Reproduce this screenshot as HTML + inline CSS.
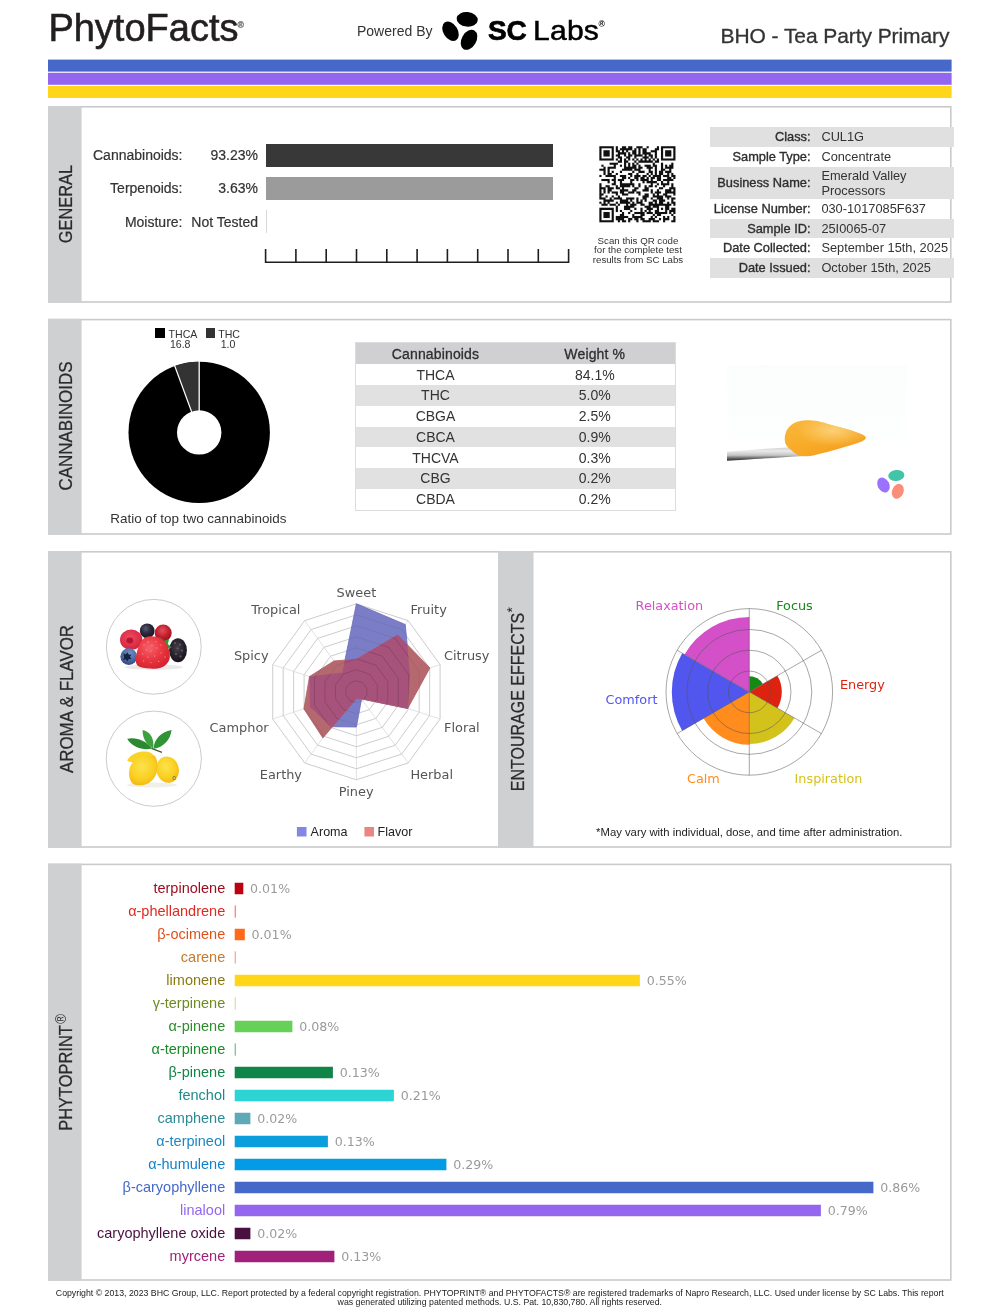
<!DOCTYPE html>
<html lang="en">
<head>
<meta charset="utf-8">
<title>PhytoFacts - BHO - Tea Party Primary</title>
<style>
html,body{margin:0;padding:0;background:#fff;}
body{will-change:transform;width:1000px;height:1309px;position:relative;overflow:hidden;font-family:"Liberation Sans",sans-serif;color:#333;}
.abs{position:absolute;white-space:nowrap;}
.dj{font-family:"DejaVu Sans","Liberation Sans",sans-serif;}
.sec{position:absolute;left:48px;width:903.6px;box-sizing:border-box;border:1.7px solid #cbccce;background:#fff;}
.side{position:absolute;background:#cfd0d2;}
.vl{position:absolute;white-space:nowrap;font-size:18px;line-height:18px;color:#2b2b2b;-webkit-text-stroke:0.25px #2b2b2b;}
.vl sup{position:absolute;left:100%;line-height:10px;vertical-align:baseline;}
.stripe{position:absolute;left:48px;width:903.6px;height:12px;}
/* general */
.glab{position:absolute;font-size:14px;line-height:16px;white-space:nowrap;color:#333;text-align:right;-webkit-text-stroke:0.2px #333;}
.it{position:absolute;left:710.4px;width:244px;}
.it .l{position:absolute;right:143.9px;white-space:nowrap;font-size:12.8px;line-height:14px;color:#2e2e2e;-webkit-text-stroke:0.35px #2e2e2e;}
.it .v{position:absolute;left:111px;white-space:nowrap;font-size:12.8px;line-height:14px;color:#333;}
.g{background:#e0e0e1;}
/* cannabinoid table */
.ct{position:absolute;left:355.5px;width:319.3px;}
.ct div{position:absolute;left:0;width:100%;height:20.77px;}
.ct span{position:absolute;top:2.2px;font-size:14px;line-height:16px;width:160px;text-align:center;color:#333;}
.ct span.a{left:0;}
.ct span.b{left:159.3px;}
/* phytoprint */
.pl{position:absolute;right:774.8px;white-space:nowrap;font-size:14.5px;line-height:16px;}
.pb{position:absolute;left:234.3px;height:11.5px;}
.pv{position:absolute;white-space:nowrap;font-size:12.6px;line-height:16px;color:#9a9a9a;font-family:"DejaVu Sans","Liberation Sans",sans-serif;}
</style>
</head>
<body>

<!-- ================= FRAME ================= -->
<svg class="abs" style="left:0;top:0;" width="1000" height="1309" viewBox="0 0 1000 1309">
  <rect x="48" y="59.6" width="903.6" height="12" fill="#4668c9"/>
  <rect x="48" y="72.8" width="903.6" height="12" fill="#9466f0"/>
  <rect x="48" y="86" width="903.6" height="12" fill="#ffd61a"/>
  <rect x="48.8" y="106.8" width="902" height="195.2" fill="#fff" stroke="#c9cacc" stroke-width="1.6"/>
  <rect x="48" y="106" width="33.6" height="196.8" fill="#cfd0d2"/>
  <rect x="48.8" y="319.6" width="902" height="214.4" fill="#fff" stroke="#c9cacc" stroke-width="1.6"/>
  <rect x="48" y="318.8" width="33.6" height="216.0" fill="#cfd0d2"/>
  <rect x="48.8" y="551.8" width="902" height="295.2" fill="#fff" stroke="#c9cacc" stroke-width="1.6"/>
  <rect x="48" y="551" width="33.6" height="296.8" fill="#cfd0d2"/>
  <rect x="48.8" y="864.4" width="902" height="415.6" fill="#fff" stroke="#c9cacc" stroke-width="1.6"/>
  <rect x="48" y="863.6" width="33.6" height="417.2" fill="#cfd0d2"/>
  <rect x="498" y="551" width="35.5" height="296.8" fill="#cfd0d2"/>
</svg>

<!-- ================= HEADER ================= -->
<div class="abs" id="pf" style="left:48.4px;top:5.7px;font-size:38px;line-height:44px;color:#231f20;-webkit-text-stroke:0.6px #231f20;">PhytoFacts</div>
<div class="abs" id="r1" style="left:237.5px;top:21.3px;font-size:8.6px;line-height:9px;color:#777;font-weight:bold;-webkit-text-stroke:0.5px #888;">®</div>
<div class="abs" id="pw" style="left:357px;top:22px;font-size:14px;line-height:18px;color:#333;">Powered By</div>
<svg class="abs" style="left:436px;top:6px;" width="48" height="48" viewBox="436 6 48 48">
  <ellipse cx="467.2" cy="19.3" rx="10.6" ry="7.3" transform="rotate(6 467.2 19.3)" fill="#000"/>
  <ellipse cx="450.5" cy="31.3" rx="10.6" ry="7.2" transform="rotate(58 450.5 31.3)" fill="#000"/>
  <ellipse cx="469" cy="39.8" rx="10.8" ry="7.3" transform="rotate(-60 469 39.8)" fill="#000"/>
</svg>
<div class="abs" id="sc" style="left:487.9px;top:14.5px;font-size:28px;line-height:32px;color:#000;font-weight:bold;-webkit-text-stroke:0.7px #000;">SC</div>
<div class="abs" id="labs" style="left:533.2px;top:14.5px;font-size:28px;line-height:32px;color:#000;letter-spacing:0.2px;transform-origin:0 50%;transform:scaleX(1.075);-webkit-text-stroke:0.5px #000;">Labs</div>
<div class="abs" id="r2" style="left:598.6px;top:19.6px;font-size:8.6px;line-height:9px;color:#000;font-weight:bold;">®</div>
<div class="abs" id="ttl" style="right:50.6px;top:24.2px;font-size:21px;line-height:24px;color:#333;letter-spacing:-0.08px;-webkit-text-stroke:0.3px #333;">BHO - Tea Party Primary</div>


<!-- ================= GENERAL ================= -->

<div class="glab" style="right:817.5px;top:147px;">Cannabinoids:</div>
<div class="glab" style="right:742px;top:147px;">93.23%</div>
<div class="glab" style="right:817.5px;top:180.2px;">Terpenoids:</div>
<div class="glab" style="right:742px;top:180.2px;">3.63%</div>
<div class="glab" style="right:817.5px;top:213.6px;">Moisture:</div>
<div class="glab" style="right:742px;top:213.6px;">Not Tested</div>
<div class="abs" style="left:266.2px;top:143.8px;width:286.6px;height:23px;background:#383838;"></div>
<div class="abs" style="left:266.2px;top:176.8px;width:286.6px;height:23.2px;background:#9b9b9b;"></div>
<div class="abs" style="left:266px;top:210px;width:1px;height:23px;background:#d8d8d8;"></div>
<svg class="abs" style="left:260px;top:245px;" width="315" height="22" viewBox="260 245 315 22">
  <path d="M265.6 249 V262.3 H568.6 V249 M295.9 249V262 M326.2 249V262 M356.5 249V262 M386.8 249V262 M417.1 249V262 M447.4 249V262 M477.7 249V262 M508 249V262 M538.3 249V262" fill="none" stroke="#1e1e1e" stroke-width="1.6"/>
</svg>

<svg class="abs" style="left:599px;top:146px;" width="78" height="78" viewBox="0 0 78 78"><g transform="translate(0.4 0.2) scale(2.0541)"><path stroke="#111" stroke-width="0.05" fill="#111" d="M0 0h7v1h-7zM8 0h1v1h-1zM11 0h2v1h-2zM14 0h2v1h-2zM18 0h3v1h-3zM23 0h1v1h-1zM28 0h1v1h-1zM30 0h7v1h-7zM0 1h1v1h-1zM6 1h1v1h-1zM8 1h1v1h-1zM10 1h6v1h-6zM17 1h1v1h-1zM19 1h1v1h-1zM21 1h2v1h-2zM27 1h2v1h-2zM30 1h1v1h-1zM36 1h1v1h-1zM0 2h1v1h-1zM2 2h3v1h-3zM6 2h1v1h-1zM8 2h2v1h-2zM11 2h1v1h-1zM13 2h1v1h-1zM16 2h2v1h-2zM19 2h1v1h-1zM21 2h2v1h-2zM25 2h3v1h-3zM30 2h1v1h-1zM32 2h3v1h-3zM36 2h1v1h-1zM0 3h1v1h-1zM2 3h3v1h-3zM6 3h1v1h-1zM9 3h4v1h-4zM14 3h1v1h-1zM16 3h2v1h-2zM19 3h1v1h-1zM21 3h4v1h-4zM27 3h1v1h-1zM30 3h1v1h-1zM32 3h3v1h-3zM36 3h1v1h-1zM0 4h1v1h-1zM2 4h3v1h-3zM6 4h1v1h-1zM8 4h2v1h-2zM12 4h1v1h-1zM14 4h2v1h-2zM17 4h4v1h-4zM22 4h1v1h-1zM24 4h2v1h-2zM27 4h1v1h-1zM30 4h1v1h-1zM32 4h3v1h-3zM36 4h1v1h-1zM0 5h1v1h-1zM6 5h1v1h-1zM9 5h2v1h-2zM13 5h2v1h-2zM17 5h1v1h-1zM21 5h3v1h-3zM25 5h1v1h-1zM27 5h1v1h-1zM30 5h1v1h-1zM36 5h1v1h-1zM0 6h7v1h-7zM8 6h1v1h-1zM10 6h1v1h-1zM12 6h1v1h-1zM14 6h1v1h-1zM16 6h1v1h-1zM18 6h1v1h-1zM20 6h1v1h-1zM22 6h1v1h-1zM24 6h1v1h-1zM26 6h1v1h-1zM28 6h1v1h-1zM30 6h7v1h-7zM9 7h2v1h-2zM12 7h2v1h-2zM17 7h1v1h-1zM19 7h7v1h-7zM27 7h2v1h-2zM5 8h4v1h-4zM12 8h1v1h-1zM14 8h1v1h-1zM16 8h1v1h-1zM18 8h1v1h-1zM26 8h1v1h-1zM30 8h1v1h-1zM35 8h1v1h-1zM1 9h1v1h-1zM7 9h1v1h-1zM10 9h1v1h-1zM12 9h1v1h-1zM14 9h1v1h-1zM16 9h2v1h-2zM19 9h1v1h-1zM22 9h3v1h-3zM26 9h2v1h-2zM30 9h1v1h-1zM32 9h1v1h-1zM34 9h2v1h-2zM2 10h1v1h-1zM4 10h4v1h-4zM12 10h6v1h-6zM19 10h2v1h-2zM23 10h3v1h-3zM27 10h1v1h-1zM30 10h1v1h-1zM32 10h4v1h-4zM0 11h3v1h-3zM4 11h1v1h-1zM11 11h5v1h-5zM17 11h3v1h-3zM24 11h1v1h-1zM27 11h1v1h-1zM30 11h2v1h-2zM34 11h1v1h-1zM2 12h1v1h-1zM4 12h1v1h-1zM6 12h1v1h-1zM10 12h1v1h-1zM16 12h1v1h-1zM19 12h3v1h-3zM24 12h2v1h-2zM27 12h1v1h-1zM29 12h2v1h-2zM32 12h3v1h-3zM2 13h1v1h-1zM4 13h2v1h-2zM8 13h1v1h-1zM14 13h2v1h-2zM18 13h1v1h-1zM23 13h1v1h-1zM25 13h1v1h-1zM27 13h1v1h-1zM29 13h2v1h-2zM33 13h1v1h-1zM35 13h1v1h-1zM0 14h1v1h-1zM3 14h5v1h-5zM10 14h3v1h-3zM15 14h1v1h-1zM17 14h3v1h-3zM21 14h2v1h-2zM24 14h1v1h-1zM26 14h4v1h-4zM31 14h3v1h-3zM35 14h2v1h-2zM7 15h1v1h-1zM11 15h2v1h-2zM14 15h1v1h-1zM17 15h2v1h-2zM20 15h2v1h-2zM23 15h1v1h-1zM25 15h2v1h-2zM28 15h2v1h-2zM33 15h2v1h-2zM36 15h1v1h-1zM1 16h4v1h-4zM6 16h2v1h-2zM9 16h3v1h-3zM15 16h2v1h-2zM18 16h1v1h-1zM20 16h4v1h-4zM25 16h1v1h-1zM28 16h2v1h-2zM31 16h5v1h-5zM4 17h1v1h-1zM7 17h1v1h-1zM10 17h1v1h-1zM15 17h1v1h-1zM21 17h1v1h-1zM23 17h5v1h-5zM30 17h1v1h-1zM33 17h1v1h-1zM0 18h1v1h-1zM6 18h2v1h-2zM10 18h7v1h-7zM19 18h1v1h-1zM25 18h1v1h-1zM28 18h1v1h-1zM30 18h4v1h-4zM35 18h1v1h-1zM0 19h1v1h-1zM3 19h2v1h-2zM8 19h1v1h-1zM10 19h5v1h-5zM16 19h1v1h-1zM19 19h1v1h-1zM22 19h1v1h-1zM24 19h2v1h-2zM27 19h1v1h-1zM31 19h1v1h-1zM35 19h1v1h-1zM0 20h3v1h-3zM4 20h3v1h-3zM8 20h2v1h-2zM11 20h1v1h-1zM17 20h2v1h-2zM22 20h2v1h-2zM29 20h2v1h-2zM34 20h3v1h-3zM0 21h1v1h-1zM2 21h1v1h-1zM4 21h2v1h-2zM10 21h4v1h-4zM16 21h2v1h-2zM21 21h3v1h-3zM25 21h1v1h-1zM28 21h1v1h-1zM32 21h3v1h-3zM36 21h1v1h-1zM0 22h1v1h-1zM2 22h1v1h-1zM4 22h1v1h-1zM6 22h3v1h-3zM10 22h2v1h-2zM14 22h3v1h-3zM18 22h2v1h-2zM25 22h1v1h-1zM27 22h3v1h-3zM32 22h5v1h-5zM0 23h2v1h-2zM8 23h1v1h-1zM11 23h3v1h-3zM19 23h1v1h-1zM22 23h2v1h-2zM26 23h1v1h-1zM28 23h1v1h-1zM31 23h2v1h-2zM36 23h1v1h-1zM0 24h1v1h-1zM3 24h1v1h-1zM6 24h1v1h-1zM9 24h1v1h-1zM21 24h3v1h-3zM26 24h5v1h-5zM32 24h3v1h-3zM0 25h3v1h-3zM5 25h1v1h-1zM7 25h4v1h-4zM13 25h4v1h-4zM18 25h1v1h-1zM21 25h2v1h-2zM25 25h1v1h-1zM28 25h3v1h-3zM33 25h1v1h-1zM35 25h2v1h-2zM2 26h5v1h-5zM10 26h4v1h-4zM15 26h1v1h-1zM18 26h1v1h-1zM20 26h1v1h-1zM22 26h1v1h-1zM26 26h2v1h-2zM29 26h3v1h-3zM35 26h1v1h-1zM0 27h1v1h-1zM2 27h1v1h-1zM4 27h1v1h-1zM8 27h1v1h-1zM10 27h5v1h-5zM16 27h1v1h-1zM18 27h3v1h-3zM24 27h2v1h-2zM27 27h1v1h-1zM29 27h2v1h-2zM33 27h1v1h-1zM35 27h2v1h-2zM1 28h3v1h-3zM5 28h3v1h-3zM9 28h1v1h-1zM13 28h1v1h-1zM15 28h3v1h-3zM20 28h2v1h-2zM24 28h11v1h-11zM36 28h1v1h-1zM8 29h1v1h-1zM12 29h5v1h-5zM22 29h3v1h-3zM26 29h3v1h-3zM32 29h2v1h-2zM0 30h7v1h-7zM8 30h1v1h-1zM12 30h3v1h-3zM17 30h1v1h-1zM20 30h1v1h-1zM23 30h3v1h-3zM28 30h1v1h-1zM30 30h1v1h-1zM32 30h2v1h-2zM35 30h2v1h-2zM0 31h1v1h-1zM6 31h1v1h-1zM8 31h1v1h-1zM10 31h1v1h-1zM15 31h1v1h-1zM20 31h1v1h-1zM22 31h1v1h-1zM24 31h1v1h-1zM27 31h2v1h-2zM32 31h1v1h-1zM34 31h3v1h-3zM0 32h1v1h-1zM2 32h3v1h-3zM6 32h1v1h-1zM11 32h1v1h-1zM14 32h1v1h-1zM17 32h5v1h-5zM23 32h3v1h-3zM27 32h6v1h-6zM34 32h1v1h-1zM36 32h1v1h-1zM0 33h1v1h-1zM2 33h3v1h-3zM6 33h1v1h-1zM10 33h2v1h-2zM16 33h1v1h-1zM20 33h2v1h-2zM26 33h1v1h-1zM28 33h2v1h-2zM35 33h1v1h-1zM0 34h1v1h-1zM2 34h3v1h-3zM6 34h1v1h-1zM8 34h6v1h-6zM16 34h5v1h-5zM25 34h1v1h-1zM27 34h1v1h-1zM31 34h1v1h-1zM33 34h1v1h-1zM36 34h1v1h-1zM0 35h1v1h-1zM6 35h1v1h-1zM8 35h4v1h-4zM14 35h2v1h-2zM17 35h2v1h-2zM20 35h2v1h-2zM24 35h3v1h-3zM29 35h1v1h-1zM31 35h3v1h-3zM36 35h1v1h-1zM0 36h7v1h-7zM9 36h1v1h-1zM11 36h2v1h-2zM14 36h1v1h-1zM18 36h1v1h-1zM21 36h4v1h-4zM26 36h3v1h-3zM31 36h1v1h-1zM35 36h2v1h-2z"/></g></svg>

<div class="abs" style="left:577px;width:122px;top:235.8px;font-size:9.7px;line-height:9.6px;text-align:center;white-space:normal;color:#333;">Scan this QR code<br>for the complete test<br>results from SC Labs</div>

<div class="it g" style="top:127.3px;height:19.5px;"><span class="l" style="top:3px;">Class:</span><span class="v" style="top:3px;">CUL1G</span></div>
<div class="it" style="top:146.8px;height:20px;"><span class="l" style="top:3.2px;">Sample Type:</span><span class="v" style="top:3.2px;">Concentrate</span></div>
<div class="it g" style="top:166.8px;height:32px;"><span class="l" style="top:9.2px;">Business Name:</span><span class="v" style="top:0.9px;line-height:15.4px;">Emerald Valley<br>Processors</span></div>
<div class="it" style="top:198.8px;height:20px;"><span class="l" style="top:3.2px;">License Number:</span><span class="v" style="top:3.2px;">030-1017085F637</span></div>
<div class="it g" style="top:218.8px;height:19.5px;"><span class="l" style="top:3px;">Sample ID:</span><span class="v" style="top:3px;">25I0065-07</span></div>
<div class="it" style="top:238.3px;height:19.5px;"><span class="l" style="top:3px;">Date Collected:</span><span class="v" style="top:3px;">September 15th, 2025</span></div>
<div class="it g" style="top:257.8px;height:20px;"><span class="l" style="top:3.2px;">Date Issued:</span><span class="v" style="top:3.2px;">October 15th, 2025</span></div>

<!-- ================= CANNABINOIDS ================= -->
<svg class="abs" style="left:120px;top:355px;" width="160" height="156" viewBox="120 355 160 156">
  <circle cx="199.2" cy="432.4" r="70.7" fill="#000"/>
  <path d="M174.79 366.05A70.7 70.7 0 0 1 199.20 361.70L199.20 410.20A22.2 22.2 0 0 0 191.53 411.57Z" fill="#333"/>
  <path d="M199.2 432.4L199.20 360.70M199.2 432.4L174.44 365.11" stroke="#fff" stroke-width="1.3" fill="none"/>
  <circle cx="199.2" cy="432.4" r="22.2" fill="#fff"/>
</svg>
<div class="abs" style="left:154.5px;top:328.4px;width:10px;height:10px;background:#000;"></div>
<div class="abs" id="lthca" style="left:168.6px;top:327.6px;font-size:10.6px;line-height:12px;color:#333;">THCA</div>
<div class="abs" id="l168" style="left:160.2px;width:40px;text-align:center;top:338.2px;font-size:10.6px;line-height:12px;color:#333;">16.8</div>
<div class="abs" style="left:205.5px;top:328.4px;width:9.4px;height:10px;background:#333;"></div>
<div class="abs" id="lthc" style="left:218.2px;top:327.6px;font-size:10.6px;line-height:12px;color:#333;">THC</div>
<div class="abs" id="l10" style="left:208px;width:40px;text-align:center;top:338.2px;font-size:10.6px;line-height:12px;color:#333;">1.0</div>
<div class="abs" id="cap" style="left:98.4px;width:200px;text-align:center;top:510.6px;font-size:13.45px;line-height:15px;color:#333;">Ratio of top two cannabinoids</div>
<div class="ct" style="top:343.3px;height:166.5px;box-shadow:0 0 0 1px #dcdcdc;background:#fff;">
<div style="top:0;height:21.1px;background:#d0d0d2;"><span class="a" style="top:3.2px;-webkit-text-stroke:0.3px #2e2e2e;color:#2e2e2e;letter-spacing:0.15px;">Cannabinoids</span><span class="b" style="top:3.2px;-webkit-text-stroke:0.3px #2e2e2e;color:#2e2e2e;letter-spacing:0.15px;">Weight %</span></div>
<div style="top:21.10px;"><span class="a">THCA</span><span class="b">84.1%</span></div>
<div style="top:41.87px; background:#e1e1e2;"><span class="a">THC</span><span class="b">5.0%</span></div>
<div style="top:62.64px;"><span class="a">CBGA</span><span class="b">2.5%</span></div>
<div style="top:83.41px; background:#e1e1e2;"><span class="a">CBCA</span><span class="b">0.9%</span></div>
<div style="top:104.18px;"><span class="a">THCVA</span><span class="b">0.3%</span></div>
<div style="top:124.95px; background:#e1e1e2;"><span class="a">CBG</span><span class="b">0.2%</span></div>
<div style="top:145.72px;"><span class="a">CBDA</span><span class="b">0.2%</span></div>
</div>
<svg class="abs" style="left:727px;top:365px;" width="180" height="138" viewBox="727 365 180 138">
  <defs>
    <linearGradient id="bgg" x1="0" y1="0" x2="0" y2="1">
      <stop offset="0" stop-color="#fbfdfd"/><stop offset="0.45" stop-color="#fdfefe"/><stop offset="0.7" stop-color="#ffffff"/>
    </linearGradient>
    <linearGradient id="blobg" x1="0" y1="0" x2="0.9" y2="1">
      <stop offset="0" stop-color="#f9b83e"/><stop offset="0.45" stop-color="#f8ad2a"/><stop offset="1" stop-color="#f39c1a"/>
    </linearGradient>
    <linearGradient id="spg" x1="0" y1="0" x2="0" y2="1">
      <stop offset="0" stop-color="#d0d0d0"/><stop offset="0.3" stop-color="#e9e9e9"/><stop offset="0.6" stop-color="#c4c4c4"/><stop offset="0.8" stop-color="#6c6c6c"/><stop offset="1" stop-color="#262626"/>
    </linearGradient>
    <radialGradient id="blobh" cx="0.6" cy="0.28" r="0.45">
      <stop offset="0" stop-color="#fdd98a" stop-opacity="0.8"/><stop offset="1" stop-color="#fdd98a" stop-opacity="0"/>
    </radialGradient>
  </defs>
  <rect x="727.2" y="365" width="179.3" height="137" fill="url(#bgg)"/>
  <path d="M726.6 451.8 C745 450.2 770 448.4 797 447 L804 456 C780 457.4 750 459.4 726.6 460.8 Z" fill="url(#spg)"/>
  <path d="M784.8 440.4 C784.4 434 786.6 428.6 791 425.2 C794.4 422.4 799 420.6 806.4 420.3 C812 420 817 420.8 821 422 C828 424 846 428.8 854.4 431.4 C860 433.2 866.4 435.6 865.9 437.8 C865.4 440.2 861 441.8 857.6 442.9 C851 445.2 832 450.8 824 452.8 C817 454.6 811 456.4 806.4 456.3 C802.6 456.3 800.6 456 798.4 455.2 C794.6 453.6 792 451.2 790.4 449.6 C787 446.8 785 443.8 784.8 440.4 Z" fill="url(#blobg)"/>
  <path d="M784.8 440.4 C784.4 434 786.6 428.6 791 425.2 C794.4 422.4 799 420.6 806.4 420.3 C812 420 817 420.8 821 422 C828 424 846 428.8 854.4 431.4 C860 433.2 866.4 435.6 865.9 437.8 C865.4 440.2 861 441.8 857.6 442.9 C851 445.2 832 450.8 824 452.8 C817 454.6 811 456.4 806.4 456.3 C802.6 456.3 800.6 456 798.4 455.2 C794.6 453.6 792 451.2 790.4 449.6 C787 446.8 785 443.8 784.8 440.4 Z" fill="url(#blobh)"/>
  <ellipse cx="896.3" cy="475.5" rx="8.1" ry="5.5" transform="rotate(-6 896.3 475.5)" fill="#42c4a8"/>
  <ellipse cx="883.5" cy="485" rx="5.8" ry="7.8" transform="rotate(-28 883.5 485)" fill="#9a72fb"/>
  <ellipse cx="897.8" cy="491.3" rx="5.7" ry="7.7" transform="rotate(22 897.8 491.3)" fill="#fa8e7a"/>
</svg>


<!-- ================= AROMA & EFFECTS ================= -->
<svg class="abs" style="left:100px;top:592px;" width="110" height="222" viewBox="100 592 110 222">
  <defs>
    <radialGradient id="gRasp" cx="0.45" cy="0.4" r="0.65"><stop offset="0" stop-color="#ee4a5e"/><stop offset="1" stop-color="#d3203c"/></radialGradient>
    <radialGradient id="gCur" cx="0.4" cy="0.35" r="0.7"><stop offset="0" stop-color="#5a5a72"/><stop offset="0.45" stop-color="#2c2b3e"/><stop offset="1" stop-color="#17151f"/></radialGradient>
    <radialGradient id="gRed" cx="0.45" cy="0.35" r="0.7"><stop offset="0" stop-color="#e2505c"/><stop offset="0.5" stop-color="#c4212f"/><stop offset="1" stop-color="#8f1220"/></radialGradient>
    <radialGradient id="gBlk" cx="0.45" cy="0.4" r="0.7"><stop offset="0" stop-color="#46404c"/><stop offset="0.6" stop-color="#241e28"/><stop offset="1" stop-color="#120e14"/></radialGradient>
    <radialGradient id="gBlu" cx="0.55" cy="0.3" r="0.8"><stop offset="0" stop-color="#7090c8"/><stop offset="0.55" stop-color="#4a68a6"/><stop offset="1" stop-color="#2a3a6a"/></radialGradient>
    <radialGradient id="gStr" cx="0.4" cy="0.35" r="0.75"><stop offset="0" stop-color="#f4626a"/><stop offset="0.5" stop-color="#ea3640"/><stop offset="1" stop-color="#cf1f2c"/></radialGradient>
    <radialGradient id="gLem" cx="0.45" cy="0.38" r="0.7"><stop offset="0" stop-color="#fde24e"/><stop offset="0.6" stop-color="#f9d020"/><stop offset="1" stop-color="#efb212"/></radialGradient>
  </defs>
  <circle cx="153.8" cy="646.8" r="47.4" fill="#fff" stroke="#c4c4c4" stroke-width="0.9"/>
  <circle cx="153.8" cy="758.7" r="47.6" fill="#fff" stroke="#c4c4c4" stroke-width="0.9"/>
  <!-- berries -->
  <ellipse cx="154" cy="667.2" rx="29" ry="2.6" fill="#ebe8e8"/>
  <circle cx="147.2" cy="630.8" r="7.4" fill="url(#gCur)"/>
  <circle cx="163.2" cy="633" r="8.5" fill="url(#gRed)"/>
  <ellipse cx="131.2" cy="639.8" rx="11.2" ry="10.2" fill="url(#gRasp)"/>
  <ellipse cx="129.8" cy="640.6" rx="3.4" ry="3" fill="#b8142e"/>
  <ellipse cx="178" cy="650.2" rx="8.9" ry="12" fill="url(#gBlk)"/>
  <g fill="#6a6470" opacity="0.8"><circle cx="175" cy="643" r="1.1"/><circle cx="180" cy="644.600" r="1.1"/><circle cx="177.600" cy="648.600" r="1.1"/><circle cx="182" cy="650.600" r="1.1"/><circle cx="176" cy="654" r="1.1"/><circle cx="180.600" cy="656.400" r="1.1"/></g>
  <path d="M159.6 637.6l4.600 3.200 5-1.800-1.400 5 4 3.400-6 1.600-3.200 5.200-3-9.600z" fill="#2f9a3a"/>
  <circle cx="128.8" cy="656.6" r="8.4" fill="url(#gBlu)"/>
  <path d="M123.400 653.200l2.400 1.200 1.800-2.200 1.200 2.600 2.800-.4-1.600 2.400 1.600 2.400-2.800-.2-1.200 2.400-1.800-2.200-2.600.8 1-2.600z" fill="#18213f"/>
  <path d="M141.2 641.4 C143.600 637.800 147 636.200 150.600 636.200 C155 636.200 159.400 637.200 162.400 639.400 C166 642 168.600 647 169.400 651.400 C170.200 655.400 170 658.400 169 660.400 C167.400 663.600 164.800 666 162 667.200 C158.600 668.600 153 669 149.400 668.600 C145 668.200 140.400 667.600 138 666 C136 664.400 135.800 662 135.900 659.600 C136 655.600 136.800 651.600 138 648.400 C138.800 645.800 139.800 643.400 141.200 641.400Z" fill="url(#gStr)"/>
  <g fill="#f8a0a4" opacity="0.75"><circle cx="144" cy="645" r="0.7"/><circle cx="148" cy="642" r="0.7"/><circle cx="152" cy="645.400" r="0.7"/><circle cx="146.600" cy="650" r="0.7"/><circle cx="156" cy="641.600" r="0.7"/><circle cx="151" cy="651" r="0.7"/><circle cx="142.600" cy="654" r="0.7"/><circle cx="157" cy="648" r="0.7"/><circle cx="161" cy="645" r="0.7"/><circle cx="148" cy="657" r="0.7"/><circle cx="154.600" cy="656" r="0.7"/><circle cx="161" cy="653" r="0.7"/><circle cx="143.600" cy="661" r="0.7"/><circle cx="151" cy="662.600" r="0.7"/><circle cx="158.600" cy="661.400" r="0.7"/><circle cx="165" cy="657" r="0.7"/></g>
  <!-- lemons -->
  <ellipse cx="152" cy="785" rx="25" ry="2.400" fill="#f1efe9"/>
  <path d="M127.200 738.800 C135 736.600 146 740 152 748.600 C143 750.600 132 747.400 127.200 738.800Z" fill="#2b8a30"/>
  <path d="M142.600 730 C149.600 731.200 154.600 738 153.200 748.400 C146.400 745 142.400 738.400 142.600 730Z" fill="#3da23e"/>
  <path d="M171.600 730 C170.400 740 163.400 747.400 153.600 748.800 C153.800 739.800 160.400 732 171.600 730Z" fill="#2f9436"/>
  <path d="M151.400 748.400 L162 752.400" stroke="#3c5c1e" stroke-width="1.200" fill="none"/>
  <path d="M127.200 760.600 C128.600 757 133 753.400 139.600 752 C146 750.800 152 752 153 755 C153.600 757.600 148 760.600 141 762 C135 763.200 130 763 127.200 760.600Z" fill="#f8d428"/>
  <ellipse cx="167.600" cy="769.600" rx="11.200" ry="13.300" transform="rotate(-14 167.600 769.600)" fill="url(#gLem)"/>
  <path d="M154.200 755.200 C156.600 757.600 157.800 762 157.600 767.600 C157.200 775 153 781.400 147 784 C141.600 786.200 135 785.400 132.600 783.400 C129.600 781 128.600 775.600 129.200 770.600 C130 764.600 134 759 140.600 756.800 C145.600 755.200 151 755.600 154.200 755.200Z" fill="url(#gLem)"/>
  <ellipse cx="174.200" cy="778" rx="1.700" ry="1.900" fill="#8a8424"/>
  <ellipse cx="174.200" cy="778" rx="0.800" ry="0.900" fill="#e8d86a"/>
</svg>
<svg class="abs" style="left:205px;top:575px;" width="290" height="270" viewBox="205 575 290 270">
  <defs><clipPath id="fc"><polygon points="356.40,659.24 397.78,634.85 429.88,667.92 407.70,708.47 361.57,698.92 356.40,698.84 322.88,737.93 303.92,708.85 309.53,676.57 333.95,660.90"/></clipPath></defs>
  <g fill="none" stroke="#b6b6b6" stroke-width="0.7"><polygon points="356.40,680.80 362.87,682.90 366.86,688.40 366.86,695.20 362.87,700.70 356.40,702.80 349.93,700.70 345.94,695.20 345.94,688.40 349.93,682.90"/><polygon points="356.40,669.80 369.33,674.00 377.32,685.00 377.32,698.60 369.33,709.60 356.40,713.80 343.47,709.60 335.48,698.60 335.48,685.00 343.47,674.00"/><polygon points="356.40,658.80 375.80,665.10 387.78,681.60 387.78,702.00 375.80,718.50 356.40,724.80 337.00,718.50 325.02,702.00 325.02,681.60 337.00,665.10"/><polygon points="356.40,647.80 382.26,656.20 398.25,678.20 398.25,705.40 382.26,727.40 356.40,735.80 330.54,727.40 314.55,705.40 314.55,678.20 330.54,656.20"/><polygon points="356.40,636.80 388.73,647.30 408.71,674.80 408.71,708.80 388.73,736.30 356.40,746.80 324.07,736.30 304.09,708.80 304.09,674.80 324.07,647.30"/><polygon points="356.40,625.80 395.19,638.40 419.17,671.40 419.17,712.20 395.19,745.20 356.40,757.80 317.61,745.20 293.63,712.20 293.63,671.40 317.61,638.40"/><polygon points="356.40,614.80 401.66,629.51 429.63,668.01 429.63,715.59 401.66,754.09 356.40,768.80 311.14,754.09 283.17,715.59 283.17,668.01 311.14,629.51"/><polygon points="356.40,603.80 408.13,620.61 440.09,664.61 440.09,718.99 408.13,762.99 356.40,779.80 304.67,762.99 272.71,718.99 272.71,664.61 304.67,620.61"/><path d="M356.40 691.80L356.40 603.80M356.40 691.80L408.13 620.61M356.40 691.80L440.09 664.61M356.40 691.80L440.09 718.99M356.40 691.80L408.13 762.99M356.40 691.80L356.40 779.80M356.40 691.80L304.67 762.99M356.40 691.80L272.71 718.99M356.40 691.80L272.71 664.61M356.40 691.80L304.67 620.61" stroke="#d6d6d6"/></g>
  <polygon points="356.40,603.80 405.28,624.52 409.96,674.40 407.70,708.47 361.57,698.92 356.40,727.00 331.05,726.68 309.95,706.89 309.53,676.57 342.43,672.58" fill="#7b7ec6" stroke="#6a6cc0" stroke-width="0.8"/>
  <polygon points="356.40,659.24 397.78,634.85 429.88,667.92 407.70,708.47 361.57,698.92 356.40,698.84 322.88,737.93 303.92,708.85 309.53,676.57 333.95,660.90" fill="#b5696f" stroke="#b06068" stroke-width="0.8"/>
  <polygon points="356.40,603.80 405.28,624.52 409.96,674.40 407.70,708.47 361.57,698.92 356.40,727.00 331.05,726.68 309.95,706.89 309.53,676.57 342.43,672.58" fill="#a6527a" clip-path="url(#fc)"/>
  <defs><clipPath id="ac"><polygon points="356.40,603.80 405.28,624.52 409.96,674.40 407.70,708.47 361.57,698.92 356.40,727.00 331.05,726.68 309.95,706.89 309.53,676.57 342.43,672.58"/></clipPath></defs><g fill="none" stroke="#000" stroke-opacity="0.1" stroke-width="0.7" clip-path="url(#ac)"><polygon points="356.40,680.80 362.87,682.90 366.86,688.40 366.86,695.20 362.87,700.70 356.40,702.80 349.93,700.70 345.94,695.20 345.94,688.40 349.93,682.90"/><polygon points="356.40,669.80 369.33,674.00 377.32,685.00 377.32,698.60 369.33,709.60 356.40,713.80 343.47,709.60 335.48,698.60 335.48,685.00 343.47,674.00"/><polygon points="356.40,658.80 375.80,665.10 387.78,681.60 387.78,702.00 375.80,718.50 356.40,724.80 337.00,718.50 325.02,702.00 325.02,681.60 337.00,665.10"/><polygon points="356.40,647.80 382.26,656.20 398.25,678.20 398.25,705.40 382.26,727.40 356.40,735.80 330.54,727.40 314.55,705.40 314.55,678.20 330.54,656.20"/><polygon points="356.40,636.80 388.73,647.30 408.71,674.80 408.71,708.80 388.73,736.30 356.40,746.80 324.07,736.30 304.09,708.80 304.09,674.80 324.07,647.30"/><polygon points="356.40,625.80 395.19,638.40 419.17,671.40 419.17,712.20 395.19,745.20 356.40,757.80 317.61,745.20 293.63,712.20 293.63,671.40 317.61,638.40"/><polygon points="356.40,614.80 401.66,629.51 429.63,668.01 429.63,715.59 401.66,754.09 356.40,768.80 311.14,754.09 283.17,715.59 283.17,668.01 311.14,629.51"/><polygon points="356.40,603.80 408.13,620.61 440.09,664.61 440.09,718.99 408.13,762.99 356.40,779.80 304.67,762.99 272.71,718.99 272.71,664.61 304.67,620.61"/></g><g fill="none" stroke="#000" stroke-opacity="0.1" stroke-width="0.7" clip-path="url(#fc)"><polygon points="356.40,680.80 362.87,682.90 366.86,688.40 366.86,695.20 362.87,700.70 356.40,702.80 349.93,700.70 345.94,695.20 345.94,688.40 349.93,682.90"/><polygon points="356.40,669.80 369.33,674.00 377.32,685.00 377.32,698.60 369.33,709.60 356.40,713.80 343.47,709.60 335.48,698.60 335.48,685.00 343.47,674.00"/><polygon points="356.40,658.80 375.80,665.10 387.78,681.60 387.78,702.00 375.80,718.50 356.40,724.80 337.00,718.50 325.02,702.00 325.02,681.60 337.00,665.10"/><polygon points="356.40,647.80 382.26,656.20 398.25,678.20 398.25,705.40 382.26,727.40 356.40,735.80 330.54,727.40 314.55,705.40 314.55,678.20 330.54,656.20"/><polygon points="356.40,636.80 388.73,647.30 408.71,674.80 408.71,708.80 388.73,736.30 356.40,746.80 324.07,736.30 304.09,708.80 304.09,674.80 324.07,647.30"/><polygon points="356.40,625.80 395.19,638.40 419.17,671.40 419.17,712.20 395.19,745.20 356.40,757.80 317.61,745.20 293.63,712.20 293.63,671.40 317.61,638.40"/><polygon points="356.40,614.80 401.66,629.51 429.63,668.01 429.63,715.59 401.66,754.09 356.40,768.80 311.14,754.09 283.17,715.59 283.17,668.01 311.14,629.51"/><polygon points="356.40,603.80 408.13,620.61 440.09,664.61 440.09,718.99 408.13,762.99 356.40,779.80 304.67,762.99 272.71,718.99 272.71,664.61 304.67,620.61"/></g>
  <g class="dj" font-family="'DejaVu Sans','Liberation Sans',sans-serif" font-size="12.9" fill="#555">
    <text x="356.4" y="597" text-anchor="middle">Sweet</text>
    <text x="410.6" y="613.5">Fruity</text>
    <text x="444" y="660">Citrusy</text>
    <text x="444" y="732">Floral</text>
    <text x="410.4" y="778.5">Herbal</text>
    <text x="356.2" y="795.6" text-anchor="middle">Piney</text>
    <text x="302" y="778.5" text-anchor="end">Earthy</text>
    <text x="268.6" y="732" text-anchor="end">Camphor</text>
    <text x="268.6" y="660" text-anchor="end">Spicy</text>
    <text x="300.4" y="613.5" text-anchor="end">Tropical</text>
  </g>
  <rect x="296.9" y="827" width="9.6" height="9.5" fill="#8486e6"/>
  <rect x="364.4" y="827" width="9.6" height="9.5" fill="#e98684"/>
  <g font-family="'Liberation Sans',sans-serif" font-size="12.55" fill="#222">
    <text x="310.6" y="836.2">Aroma</text>
    <text x="377.6" y="836.2">Flavor</text>
  </g>
</svg>
<svg class="abs" style="left:590px;top:590px;" width="330" height="260" viewBox="590 590 330 260">
  <path d="M749.3 691.9L749.30 676.24A15.66 15.66 0 0 1 762.86 684.07Z" fill="#148a14"/><path d="M749.3 691.9L777.43 675.66A32.49 32.49 0 0 1 777.43 708.14Z" fill="#dd2210"/><path d="M749.3 691.9L794.46 717.97A52.15 52.15 0 0 1 749.30 744.05Z" fill="#d4c21c"/><path d="M749.3 691.9L749.30 744.71A52.81 52.81 0 0 1 703.56 718.31Z" fill="#ff8c1c"/><path d="M749.3 691.9L682.21 730.63A77.47 77.47 0 0 1 682.21 653.17Z" fill="#5056ee"/><path d="M749.3 691.9L684.52 654.50A74.80 74.80 0 0 1 749.30 617.10Z" fill="#d450c8"/>
  <g fill="none" stroke="#555" stroke-opacity="0.75" stroke-width="0.7"><circle cx="749.3" cy="691.9" r="20.82"/><circle cx="749.3" cy="691.9" r="41.65"/><circle cx="749.3" cy="691.9" r="62.47"/><circle cx="749.3" cy="691.9" r="83.30"/><path d="M749.30 691.90L749.30 608.60M749.30 691.90L821.44 650.25M749.30 691.90L821.44 733.55M749.30 691.90L749.30 775.20M749.30 691.90L677.16 733.55M749.30 691.90L677.16 650.25"/></g>
  <g font-family="'DejaVu Sans','Liberation Sans',sans-serif" font-size="12.8">
    <text x="635.6" y="610" fill="#d450c8">Relaxation</text>
    <text x="776.2" y="610" fill="#148a14">Focus</text>
    <text x="840" y="688.5" fill="#dd2210">Energy</text>
    <text x="794.6" y="782.5" fill="#d4c21c">Inspiration</text>
    <text x="687" y="782.5" fill="#ff8c1c">Calm</text>
    <text x="605.6" y="704" fill="#5056ee">Comfort</text>
  </g>
  <text x="749.3" y="836" text-anchor="middle" font-family="'Liberation Sans',sans-serif" font-size="11.3" fill="#222">*May vary with individual, dose, and time after administration.</text>
</svg>


<!-- ================= PHYTOPRINT ================= -->
<div class="pl" style="top:880.1px;color:#9e0c22;">terpinolene</div><div class="pv" style="left:250.1px;top:880.6px;">0.01%</div>
<div class="pl" style="top:903.1px;color:#e02a20;">α-phellandrene</div>
<div class="pl" style="top:926.1px;color:#e0511a;">β-ocimene</div><div class="pv" style="left:251.6px;top:926.6px;">0.01%</div>
<div class="pl" style="top:949.1px;color:#c77a2a;">carene</div>
<div class="pl" style="top:972.1px;color:#8a7a12;">limonene</div><div class="pv" style="left:646.7px;top:972.6px;">0.55%</div>
<div class="pl" style="top:995.1px;color:#6c8a1e;">γ-terpinene</div>
<div class="pl" style="top:1018.1px;color:#2e8b2e;">α-pinene</div><div class="pv" style="left:299.2px;top:1018.6px;">0.08%</div>
<div class="pl" style="top:1041.1px;color:#1a8a2a;">α-terpinene</div>
<div class="pl" style="top:1064.1px;color:#108548;">β-pinene</div><div class="pv" style="left:339.7px;top:1064.6px;">0.13%</div>
<div class="pl" style="top:1087.1px;color:#1f8a8a;">fenchol</div><div class="pv" style="left:400.7px;top:1087.6px;">0.21%</div>
<div class="pl" style="top:1110.1px;color:#2a8a96;">camphene</div><div class="pv" style="left:257.2px;top:1110.6px;">0.02%</div>
<div class="pl" style="top:1133.1px;color:#1a88c0;">α-terpineol</div><div class="pv" style="left:334.7px;top:1133.6px;">0.13%</div>
<div class="pl" style="top:1156.1px;color:#1282c8;">α-humulene</div><div class="pv" style="left:453.2px;top:1156.6px;">0.29%</div>
<div class="pl" style="top:1179.1px;color:#4668c9;">β-caryophyllene</div><div class="pv" style="left:880.2px;top:1179.6px;">0.86%</div>
<div class="pl" style="top:1202.1px;color:#9466f0;">linalool</div><div class="pv" style="left:827.7px;top:1202.6px;">0.79%</div>
<div class="pl" style="top:1225.1px;color:#4a1040;">caryophyllene oxide</div><div class="pv" style="left:257.2px;top:1225.6px;">0.02%</div>
<div class="pl" style="top:1248.1px;color:#a0207a;">myrcene</div><div class="pv" style="left:341.2px;top:1248.6px;">0.13%</div>


<div class="vl" id="v1" style="left:66.2px;top:203.75px;transform:translate(-50%,-50%) rotate(-90deg) scaleX(0.9107);">GENERAL</div>
<div class="vl" id="v2" style="left:66.4px;top:426.35px;transform:translate(-50%,-50%) rotate(-90deg) scaleX(0.943);">CANNABINOIDS</div>
<div class="vl" id="v3" style="left:66.5px;top:698.9px;transform:translate(-50%,-50%) rotate(-90deg) scaleX(0.9389);">AROMA &amp; FLAVOR</div>
<div class="vl" id="v4" style="left:517.8px;top:702.0px;transform:translate(-50%,-50%) rotate(-90deg) scaleX(0.889);">ENTOURAGE EFFECTS<sup style="font-size:15.5px;top:-1.6px;margin-left:0.2px;-webkit-text-stroke:0;">*</sup></div>
<div class="vl" id="v5" style="left:66.2px;top:1078px;transform:translate(-50%,-50%) rotate(-90deg) scaleX(0.9123);">PHYTOPRINT<sup style="font-size:14.5px;top:-1px;margin-left:1.5px;-webkit-text-stroke:0;">®</sup></div>
<svg class="abs" style="left:230px;top:875px;" width="660" height="395" viewBox="230 875 660 395">
<g transform="translate(0.4 0.3)"><rect x="234.3" y="882.45" width="8.6" height="11.5" fill="#bd0010"/><rect x="234.3" y="905.05" width="1.1" height="12.3" fill="#ff6b66"/><rect x="234.3" y="928.45" width="10.1" height="11.5" fill="#ff6a1a"/><rect x="234.3" y="951.05" width="1.1" height="12.3" fill="#ff9a80"/><rect x="234.3" y="974.45" width="405.2" height="11.5" fill="#ffd61a"/><rect x="234.3" y="997.05" width="1.1" height="12.3" fill="#d3df9e"/><rect x="234.3" y="1020.45" width="57.7" height="11.5" fill="#66d158"/><rect x="234.3" y="1043.05" width="1.1" height="12.3" fill="#6fb08a"/><rect x="234.3" y="1066.45" width="98.2" height="11.5" fill="#108548"/><rect x="234.3" y="1089.45" width="159.2" height="11.5" fill="#2dd4d4"/><rect x="234.3" y="1112.45" width="15.7" height="11.5" fill="#5fa8b8"/><rect x="234.3" y="1135.45" width="93.2" height="11.5" fill="#0a9fdc"/><rect x="234.3" y="1158.45" width="211.7" height="11.5" fill="#049be6"/><rect x="234.3" y="1181.45" width="638.7" height="11.5" fill="#4668c9"/><rect x="234.3" y="1204.45" width="586.2" height="11.5" fill="#9466f0"/><rect x="234.3" y="1227.45" width="15.7" height="11.5" fill="#4a1040"/><rect x="234.3" y="1250.45" width="99.7" height="11.5" fill="#a0207a"/>
</g></svg>
<!-- ================= FOOTER ================= -->
<div class="abs" id="ft" style="left:48px;width:903.6px;top:1289.2px;font-size:8.76px;line-height:9.1px;text-align:center;white-space:nowrap;color:#222;">Copyright © 2013, 2023 BHC Group, LLC. Report protected by a federal copyright registration. PHYTOPRINT® and PHYTOFACTS® are registered trademarks of Napro Research, LLC. Used under license by SC Labs. This report<br>was generated utilizing patented methods. U.S. Pat. 10,830,780. All rights reserved.</div>

</body>
</html>
